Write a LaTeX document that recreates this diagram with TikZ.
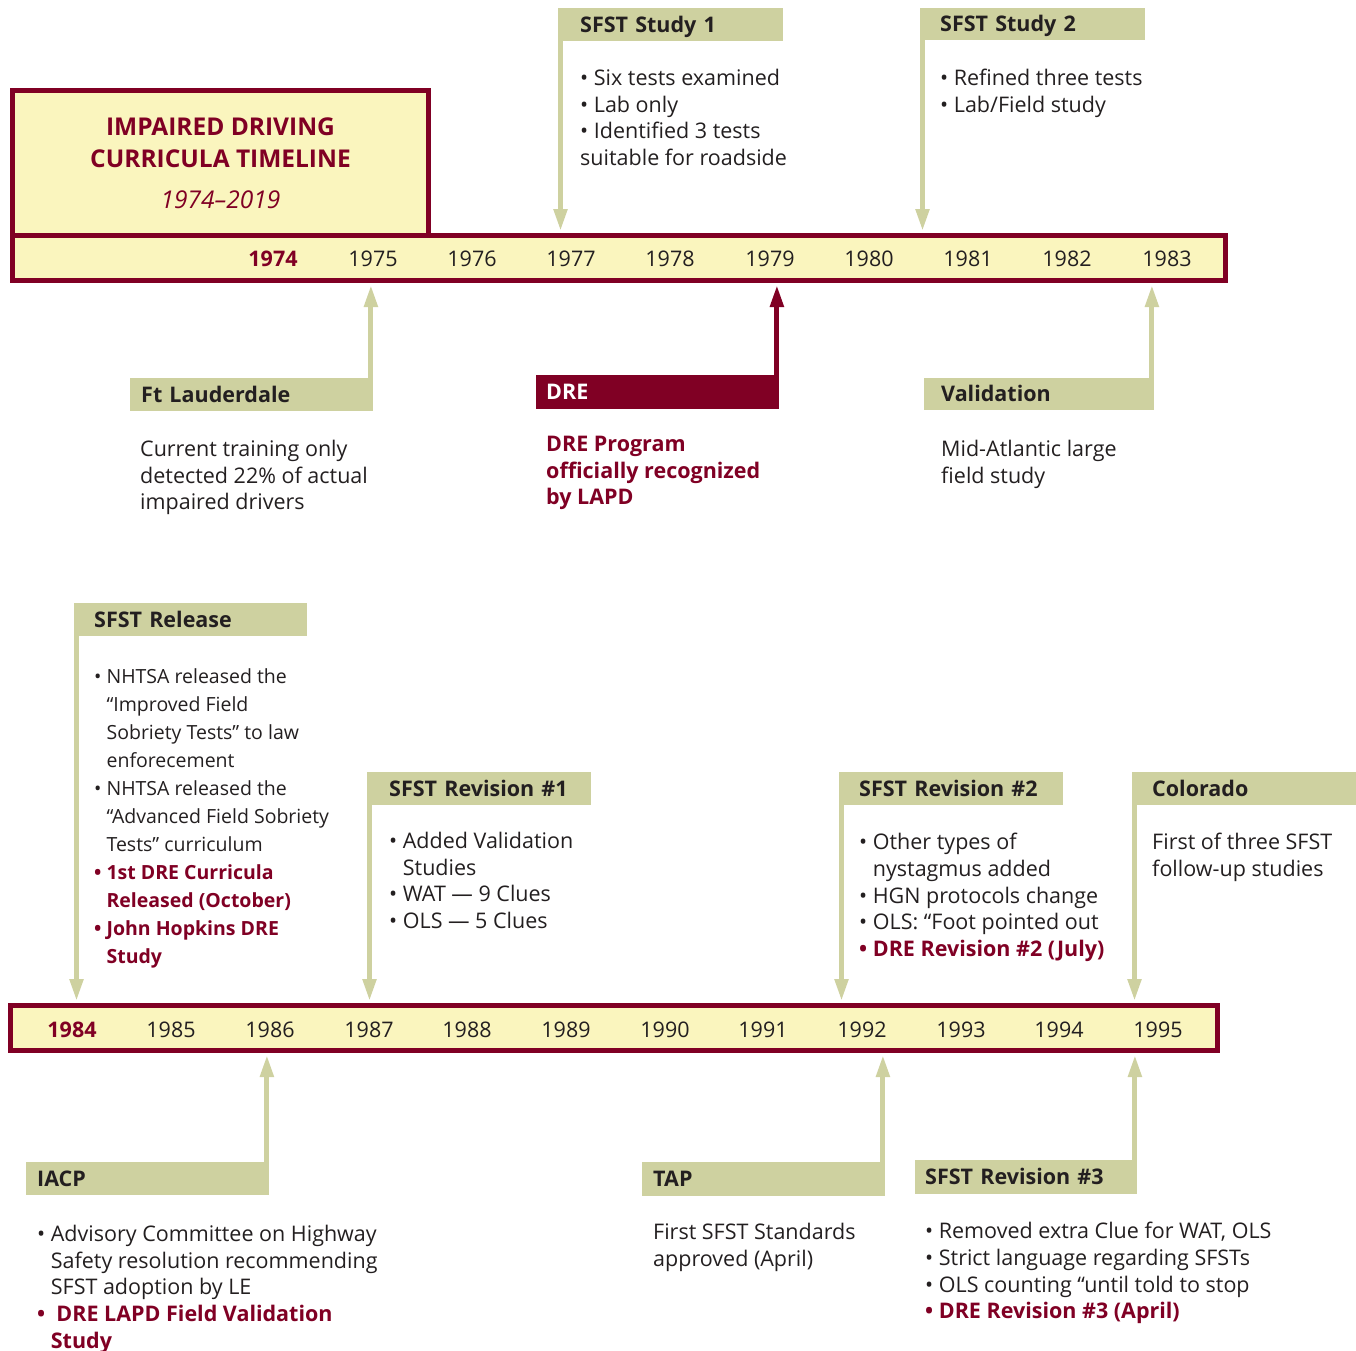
\documentclass[tikz,border=0pt]{standalone}
\usepackage{fontspec}
\setmainfont{Open Sans}
\usetikzlibrary{arrows.meta,calc}
\definecolor{maroon}{HTML}{800024}
\definecolor{cream}{HTML}{FAF5BE}
\definecolor{olive}{HTML}{CED1A0}
\definecolor{ink}{HTML}{231F20}
\newcommand{\txtsize}{\fontsize{21.5}{26.7}\selectfont}
\newcommand{\hang}{\hphantom{• }}
\newcommand{\hangb}{\hphantom{\bfseries • }}

\begin{document}
\begin{tikzpicture}[x=1pt,y=-1pt,
	tag/.style={anchor=north west, fill=olive, minimum height=33pt, inner ysep=0pt, text height=18pt, text depth=3pt, align=left, text=ink, font=\txtsize\bfseries},
	redtag/.style={tag, fill=maroon, text=white},
	body/.style={anchor=north west, inner sep=0pt, align=left, text=ink, font=\txtsize, execute at begin node=\rule{0pt}{17pt}},
	redbody/.style={body, text=maroon, font=\txtsize\bfseries},
	bar/.style={draw=maroon, fill=cream, line width=5pt},
	yr/.style={text=ink, font=\txtsize},
	arr/.style={draw=olive, line width=5pt, -{Triangle[width=13pt,length=22pt]}, shorten >=2pt},
	redarr/.style={arr, draw=maroon}]
	%%%%% START %%%%%
	\useasboundingbox (0,0) rectangle (1356,1350);
	
	% title and first bar
	\node[bar, minimum width=416pt, minimum height=145pt, align=center, text=maroon, font=\fontsize{24.5}{32}\selectfont\bfseries] (title) at (220.5,163) {IMPAIRED DRIVING\\CURRICULA TIMELINE\\[9pt]{\mdseries\itshape 1974–2019}};
	\node[bar, minimum width=1213pt, minimum height=45pt] (bar1) at (619,258) {};
	
	\node[yr, text=maroon, font=\txtsize\bfseries] (y1974) at (273,259) {1974};
	\node[yr] (y1975) at (373,259) {1975};
	\node[yr] (y1976) at (472,259) {1976};
	\node[yr] (y1977) at (571,259) {1977};
	\node[yr] (y1978) at (670,259) {1978};
	\node[yr] (y1979) at (770,259) {1979};
	\node[yr] (y1980) at (869,259) {1980};
	\node[yr] (y1981) at (968,259) {1981};
	\node[yr] (y1982) at (1067,259) {1982};
	\node[yr] (y1983) at (1167,259) {1983};
	
	% second bar
	\node[bar, minimum width=1207pt, minimum height=45pt] (bar2) at (614,1028) {};
	
	\node[yr, text=maroon, font=\txtsize\bfseries] (y1984) at (72,1030) {1984};
	\node[yr] (y1985) at (171,1030) {1985};
	\node[yr] (y1986) at (270,1030) {1986};
	\node[yr] (y1987) at (369,1030) {1987};
	\node[yr] (y1988) at (467,1030) {1988};
	\node[yr] (y1989) at (566,1030) {1989};
	\node[yr] (y1990) at (665,1030) {1990};
	\node[yr] (y1991) at (763,1030) {1991};
	\node[yr] (y1992) at (862,1030) {1992};
	\node[yr] (y1993) at (961,1030) {1993};
	\node[yr] (y1994) at (1059,1030) {1994};
	\node[yr] (y1995) at (1158,1030) {1995};
	
	% events above bar 1
	\node[tag, inner xsep=22pt, text width=181pt] (study1) at (558,8) {SFST Study 1};
	\draw[arr] ([xshift=2.5pt]study1.north west) -- ([xshift=2.5pt]study1.north west |- bar1.north);
	\node[body] (study1txt) at (580,69) {• Six tests examined\\• Lab only\\• Identified 3 tests\\suitable for roadside};
	
	\node[tag, inner xsep=20pt, text width=185pt, minimum height=32pt] (study2) at (920,8) {SFST Study 2};
	\draw[arr] ([xshift=2.5pt]study2.north west) -- ([xshift=2.5pt]study2.north west |- bar1.north);
	\node[body] (study2txt) at (940,69) {• Refined three tests\\• Lab/Field study};
	
	% events below bar 1
	\node[tag, inner xsep=11pt, text width=221pt] (ftl) at (130,378) {Ft Lauderdale};
	\draw[arr] ([xshift=-2.5pt]ftl.north east) -- ([xshift=-2.5pt]ftl.north east |- bar1.south);
	\node[body] (ftltxt) at (140,440) {Current training only\\detected 22\% of actual\\impaired drivers};
	
	\node[redtag, inner xsep=10pt, text width=223pt, minimum height=34pt] (dre) at (536,375) {DRE};
	\draw[redarr] ([xshift=-2.5pt]dre.north east) -- ([xshift=-2.5pt]dre.north east |- bar1.south);
	\node[redbody] (dretxt) at (546,436) {DRE Program\\officially recognized\\by LAPD};
	
	\node[tag, inner xsep=17pt, text width=196pt, minimum height=32pt] (valid) at (924,378) {Validation};
	\draw[arr] ([xshift=-2.5pt]valid.north east) -- ([xshift=-2.5pt]valid.north east |- bar1.south);
	\node[body] (validtxt) at (941,440) {Mid-Atlantic large\\field study};
	
	% events above bar 2
	\node[tag, inner xsep=20pt, text width=193pt] (release) at (74,603) {SFST Release};
	\draw[arr] ([xshift=2.5pt]release.north west) -- ([xshift=2.5pt]release.north west |- bar2.north);
	\node[body, font=\fontsize{19.5}{28}\selectfont] (releasetxt) at (94,668) {• NHTSA released the\\\hang“Improved Field\\\hang Sobriety Tests” to law\\\hang enforecement\\• NHTSA released the\\\hang“Advanced Field Sobriety\\\hang Tests” curriculum\\{\color{maroon}\bfseries • 1st DRE Curricula}\\{\color{maroon}\bfseries\hangb Released (October)}\\{\color{maroon}\bfseries • John Hopkins DRE}\\{\color{maroon}\bfseries\hangb Study}};
	
	\node[tag, inner xsep=22pt, text width=180pt] (rev1) at (367,772) {SFST Revision \#1};
	\draw[arr] ([xshift=2.5pt]rev1.north west) -- ([xshift=2.5pt]rev1.north west |- bar2.north);
	\node[body] (rev1txt) at (389,832) {• Added Validation\\\hang Studies\\• WAT — 9 Clues\\• OLS — 5 Clues};
	
	\node[tag, inner xsep=20pt, text width=184pt] (rev2) at (839,772) {SFST Revision \#2};
	\draw[arr] ([xshift=2.5pt]rev2.north west) -- ([xshift=2.5pt]rev2.north west |- bar2.north);
	\node[body] (rev2txt) at (859,833) {• Other types of\\\hang nystagmus added\\• HGN protocols change\\• OLS: “Foot pointed out\\{\color{maroon}\bfseries • DRE Revision \#2 (July)}};
	
	\node[tag, inner xsep=20pt, text width=184pt] (colorado) at (1132,772) {Colorado};
	\draw[arr] ([xshift=2.5pt]colorado.north west) -- ([xshift=2.5pt]colorado.north west |- bar2.north);
	\node[body] (coloradotxt) at (1152,833) {First of three SFST\\follow-up studies};
	
	% events below bar 2
	\node[tag, inner xsep=11pt, text width=221pt] (iacp) at (26,1162) {IACP};
	\draw[arr] ([xshift=-2.5pt]iacp.north east) -- ([xshift=-2.5pt]iacp.north east |- bar2.south);
	\node[body] (iacptxt) at (37,1225) {• Advisory Committee on Highway\\\hang Safety resolution recommending\\\hang SFST adoption by LE\\{\color{maroon}\bfseries •\ \ DRE LAPD Field Validation}\\{\color{maroon}\bfseries\hangb Study}};
	
	\node[tag, inner xsep=11pt, text width=221pt, minimum height=34pt] (tap) at (642,1162) {TAP};
	\draw[arr] ([xshift=-2.5pt]tap.north east) -- ([xshift=-2.5pt]tap.north east |- bar2.south);
	\node[body] (taptxt) at (653,1223) {First SFST Standards\\approved (April)};
	
	\node[tag, inner xsep=10pt, text width=202pt, minimum height=34pt] (rev3) at (915,1160) {SFST Revision \#3};
	\draw[arr] ([xshift=-2.5pt]rev3.north east) -- ([xshift=-2.5pt]rev3.north east |- bar2.south);
	\node[body] (rev3txt) at (925,1222) {• Removed extra Clue for WAT, OLS\\• Strict language regarding SFSTs\\• OLS counting “until told to stop\\{\color{maroon}\bfseries • DRE Revision \#3 (April)}};
	
	%%%%% END %%%%%
\end{tikzpicture}
\end{document}
